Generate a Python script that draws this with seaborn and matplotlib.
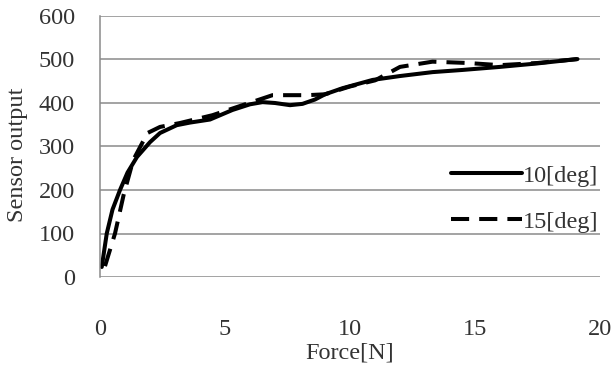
import matplotlib
matplotlib.use("Agg")
import matplotlib.pyplot as plt
import seaborn as sns
import pandas as pd

force_10 = [0.07, 0.27, 0.5, 0.8, 1.1, 1.48, 2.0, 2.4, 3.07, 3.6, 4.4, 5.3, 6.0, 6.5, 7.0, 7.6, 8.1, 8.6, 9.0, 9.7, 10.9, 12.0, 13.3, 14.5, 16.0, 17.5, 19.1]
sensor_10 = [23, 100, 155, 200, 240, 276, 310, 331, 349, 355, 362, 384, 397, 402, 400, 395, 398, 408, 420, 434, 453, 462, 471, 476, 483, 491, 501]

force_15 = [0.2, 0.6, 0.95, 1.33, 1.9, 2.4, 3.2, 4.5, 5.7, 6.9, 8.3, 9.0, 10.0, 11.0, 12.0, 13.3, 14.7, 16.0, 17.5, 19.1]
sensor_15 = [25, 100, 190, 269, 331, 345, 354, 372, 395, 418, 418, 420, 438, 452, 483, 495, 492, 487, 492, 501]

labels = ["10[deg]", "15[deg]"]

df = pd.concat([
    pd.DataFrame({"Force": force_10, "Sensor": sensor_10, "Angle": labels[0]}),
    pd.DataFrame({"Force": force_15, "Sensor": sensor_15, "Angle": labels[1]}),
], ignore_index=True)

sns.set_style("white")
plt.rcParams["font.family"] = ["Liberation Serif", "DejaVu Serif"]

fs = 17.5
tc = "#333333"
fig = plt.figure(figsize=(6.16, 3.69), dpi=100)
ax = fig.add_axes([100/616, 1-277/369, 500/616, 261/369])

sns.lineplot(data=df, x="Force", y="Sensor", hue="Angle", style="Angle",
             palette=["black", "black"], dashes={labels[0]: "", labels[1]: (4.5, 2.5)},
             linewidth=2.9, sort=False, estimator=None, ax=ax)

ax.set_xlim(0, 20)
ax.set_ylim(0, 600)
ax.set_xticks([0, 5, 10, 15, 20])
ax.set_yticks([0, 100, 200, 300, 400, 500, 600])
ax.yaxis.grid(True, color="#8a8a8a", linewidth=1.1)
ax.xaxis.grid(False)
for s in ["top", "right", "bottom"]:
    ax.spines[s].set_visible(False)
ax.spines["left"].set_color("#8a8a8a")
ax.spines["left"].set_linewidth(1.1)
ax.tick_params(axis="both", length=0, labelsize=fs, colors=tc)
ax.tick_params(axis="x", pad=30)
ax.tick_params(axis="y", pad=18)
ax.set_xlabel("Force[N]", fontsize=fs, labelpad=2, color=tc)
ax.set_ylabel("Sensor output", fontsize=fs, color=tc)
ax.yaxis.set_label_coords(-0.143, 0.47)

leg = ax.legend(loc="center right", bbox_to_anchor=(1.016, 0.30), frameon=False,
                fontsize=fs, handlelength=2.9, handletextpad=0.05,
                labelspacing=1.0, borderaxespad=0.0, labelcolor=tc)
for line in leg.get_lines():
    line.set_linewidth(2.9)

fig.savefig("out.png", dpi=100)
